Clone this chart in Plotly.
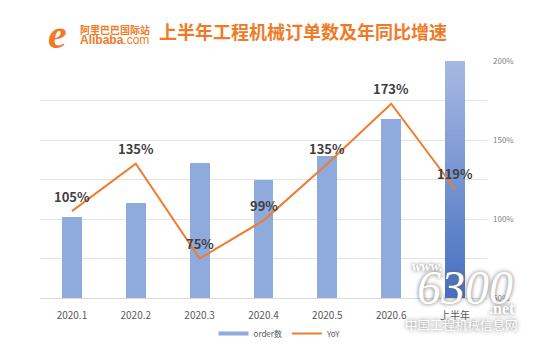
import plotly.graph_objects as go

categories = ["2020.1", "2020.2", "2020.3", "2020.4", "2020.5", "2020.6", "上半年"]
orders = [205, 241, 342, 299, 359, 453, 600]
yoy = [105, 135, 75, 99, 135, 173, 119]
yoy_labels = ["105%", "135%", "75%", "99%", "135%", "173%", "119%"]
pct_ticks = [50, 100, 150, 200]
pct_tick_labels = ["50%", "100%", "150%", "200%"]

BAR = "#8FAADC"
ORANGE = "#ED7D31"
TITLE_ORANGE = "#F07A26"
FONT = "Noto Sans CJK SC"

fig = go.Figure()

fig.add_trace(go.Bar(
    x=categories[:-1], y=orders[:-1], name="order数", showlegend=False,
    marker=dict(color=BAR, line=dict(width=0)), width=0.31,
    yaxis="y",
))

# half-year bar with vertical gradient (stacked slices)
N = 48
top_c = (165, 184, 226)
bot_c = (70, 112, 194)
for i in range(N):
    t = i / (N - 1)
    c = tuple(round(bot_c[k] + (top_c[k] - bot_c[k]) * t) for k in range(3))
    fig.add_trace(go.Bar(
        x=[categories[-1]], y=[orders[-1] / N], showlegend=False,
        marker=dict(color="rgb(%d,%d,%d)" % c, line=dict(width=0)),
        width=0.31, hoverinfo="skip", yaxis="y",
    ))

fig.add_trace(go.Scatter(
    x=categories, y=yoy, name="YoY", mode="lines", showlegend=False,
    line=dict(color=ORANGE, width=2), yaxis="y2",
))

# legend entries (thin bar-like swatches)
fig.add_trace(go.Scatter(x=[None], y=[None], name="order数", mode="lines",
                         line=dict(color=BAR, width=4), yaxis="y2"))
fig.add_trace(go.Scatter(x=[None], y=[None], name="YoY", mode="lines",
                         line=dict(color=ORANGE, width=2), yaxis="y2"))

annotations = []
for i, (v, lab) in enumerate(zip(yoy, yoy_labels)):
    annotations.append(dict(
        x=i, y=v, xref="x", yref="y2", text="<b>%s</b>" % lab, showarrow=False,
        xanchor="center", yanchor="middle",
        yshift=15, font=dict(family=FONT, size=13, color="#404040"),
    ))

def pa(x, y, text, font, xanchor="center"):
    return dict(x=x, y=y, xref="paper", yref="paper", text=text, showarrow=False,
                xanchor=xanchor, yanchor="middle", font=font)

wm = dict(color="white", shadow="0px 0px 4px #666")
annotations += [
    pa(0.589, 1.127, "<b>上半年工程机械订单数及年同比增速</b>", dict(family=FONT, size=18, color=TITLE_ORANGE)),
    pa(0.086, 1.135, "<b>阿里巴巴国际站</b>", dict(family=FONT, size=10, color=TITLE_ORANGE), "left"),
    pa(0.086, 1.090, "<b>Alibaba</b>.com", dict(family="Liberation Sans", size=12, color=TITLE_ORANGE), "left"),
    pa(0.04, 1.115, "<b><i>e</i></b>", dict(family="Liberation Serif", size=42, color=TITLE_ORANGE)),
    pa(0.866, 0.135, "<b><i>www.</i></b>", dict(family="Liberation Serif", size=14, **wm)),
    pa(0.951, 0.046, "<i>6300</i>", dict(family="Liberation Serif", size=48, **wm)),
    pa(1.034, -0.046, "<b>.net</b>", dict(family="Liberation Serif", size=16, **wm)),
    pa(0.942, -0.110, "中国工程机械信息网", dict(family=FONT, size=12.5, **wm)),
]

fig.update_layout(
    width=550, height=354,
    margin=dict(l=40, r=63, t=61, b=56, autoexpand=False),
    paper_bgcolor="white", plot_bgcolor="white",
    barmode="stack", bargap=0.69,
    font=dict(family=FONT, color="#595959"),
    showlegend=True,
    legend=dict(orientation="h", x=0.537, xanchor="center", y=-0.15, yanchor="middle",
                traceorder="normal", itemwidth=30, font=dict(size=8, color="#595959")),
    xaxis=dict(type="category", range=[-0.5, 6.5], showline=True, linecolor="#D9D9D9", linewidth=1,
               automargin=False,
               ticks="", ticklabelstandoff=8, tickfont=dict(size=10, color="#595959"), showgrid=False),
    yaxis=dict(range=[0, 600], dtick=100, showticklabels=False, showgrid=True, automargin=False,
               gridcolor="#E3E3E3", gridwidth=1, zeroline=False),
    yaxis2=dict(range=[50, 200], tickmode="array", tickvals=pct_ticks, ticktext=pct_tick_labels,
                overlaying="y", side="right", ticklabelstandoff=5, automargin=False,
                showgrid=False, zeroline=False, tickfont=dict(size=8, color="#808080")),
    annotations=annotations,
)

fig.write_html("out.html")
